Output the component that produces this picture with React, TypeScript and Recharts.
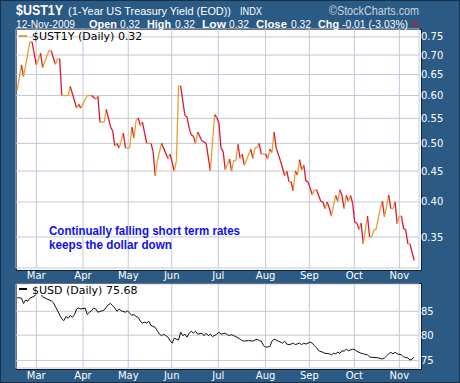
import React from "react";
import { LineChart, Line, XAxis, YAxis, CartesianGrid } from "recharts";

// x = trading-day position (0 = start of March 2009)
const ustDay = [
  -9, -7, -6, -3, -2, 0, 2, 3, 6, 7,
  9, 10, 11, 12, 15, 16, 19, 20, 21, 24,
  26, 28, 29, 30, 32, 33, 35, 36, 37, 38,
  39, 41, 42, 44, 45, 46, 47, 48, 49, 50,
  52, 54, 55, 56, 57, 59, 62, 63, 65, 66,
  67, 68, 70, 71, 72, 73, 74, 75, 76, 78,
  80, 82, 84, 85, 86, 87, 88, 89, 91, 92,
  93, 94, 95, 96, 97, 98, 101, 102, 103, 104,
  105, 106, 108, 109, 110, 111, 112, 113, 115, 117,
  118, 119, 120, 121, 122, 123, 124, 125, 126, 127,
  128, 130, 131, 132, 134, 135, 136, 137, 138, 139,
  141, 142, 143, 144, 145, 146, 147, 148, 149, 150,
  151, 152, 153, 154, 156, 157, 158, 159, 160, 162,
  163, 164, 166, 167, 168, 169, 170, 171, 172, 173,
  174, 175, 176, 178,
];
const ustYield = [
  0.612, 0.674, 0.645, 0.736, 0.736, 0.674, 0.705, 0.667, 0.712, 0.712,
  0.676, 0.69, 0.69, 0.6, 0.6, 0.621, 0.572, 0.58, 0.572, 0.6,
  0.6, 0.592, 0.598, 0.542, 0.542, 0.569, 0.532, 0.524, 0.495, 0.5,
  0.491, 0.52, 0.491, 0.491, 0.532, 0.51, 0.546, 0.551, 0.535, 0.542,
  0.5, 0.5, 0.485, 0.442, 0.468, 0.5, 0.472, 0.48, 0.45, 0.468,
  0.622, 0.622, 0.556, 0.553, 0.53, 0.516, 0.514, 0.5, 0.522, 0.505,
  0.5, 0.45, 0.558, 0.552, 0.541, 0.491, 0.485, 0.452, 0.471, 0.45,
  0.468, 0.468, 0.498, 0.472, 0.48, 0.46, 0.489, 0.472, 0.492, 0.492,
  0.5, 0.48, 0.48, 0.471, 0.489, 0.483, 0.522, 0.491, 0.468, 0.442,
  0.45, 0.432, 0.432, 0.417, 0.45, 0.443, 0.47, 0.452, 0.46, 0.433,
  0.432, 0.411, 0.419, 0.419, 0.401, 0.4, 0.39, 0.4, 0.391, 0.379,
  0.41, 0.401, 0.419, 0.41, 0.39, 0.41, 0.401, 0.41, 0.398, 0.37,
  0.369, 0.36, 0.369, 0.341, 0.379, 0.35, 0.35, 0.36, 0.36, 0.39,
  0.401, 0.378, 0.411, 0.39, 0.39, 0.4, 0.368, 0.379, 0.379, 0.361,
  0.36, 0.341, 0.341, 0.32,
];

const usdDay = [
  -9, -7, -6, -5, -4, -3, -1, 0, 2, 3,
  5, 7, 8, 12, 13, 14, 15, 16, 17, 18,
  19, 20, 21, 23, 24, 25, 26, 27, 28, 29,
  31, 32, 33, 34, 35, 36, 37, 38, 39, 40,
  42, 43, 44, 45, 46, 47, 48, 49, 50, 51,
  52, 53, 54, 56, 57, 58, 59, 60, 61, 62,
  63, 64, 65, 67, 68, 69, 70, 71, 72, 73,
  74, 75, 76, 78, 79, 80, 81, 82, 83, 85,
  86, 87, 89, 90, 91, 92, 93, 94, 96, 97,
  98, 100, 102, 103, 104, 105, 106, 107, 108, 110,
  111, 112, 113, 114, 116, 117, 118, 119, 120, 121,
  122, 124, 125, 126, 127, 129, 130, 131, 132, 133,
  135, 136, 138, 139, 140, 141, 142, 143, 144, 145,
  146, 147, 149, 150, 151, 152, 153, 154, 156, 157,
  158, 160, 161, 163, 164, 165, 166, 167, 168, 169,
  170, 172, 173, 174, 175, 176, 177, 178,
];
const usdValue = [
  88.0, 87.9, 86.7, 87.5, 87.2, 87.9, 88.3, 88.9, 89.0, 88.2,
  87.7, 87.3, 86.9, 83.4, 83.0, 83.9, 83.5, 84.1, 83.7, 84.3,
  85.5, 85.7, 85.5, 85.7, 84.3, 84.8, 85.1, 85.7, 85.5, 84.8,
  85.1, 85.3, 85.9, 86.45, 86.7, 86.2, 85.7, 85.0, 85.5, 85.1,
  84.8, 85.1, 84.6, 84.1, 84.3, 83.9, 83.7, 82.9, 82.5, 82.7,
  82.5, 82.9, 82.0, 81.6, 80.9, 80.2, 79.9, 80.2, 79.9, 79.6,
  78.9, 78.4, 79.4, 79.0, 80.6, 79.9, 80.2, 79.6, 80.4, 80.8,
  80.4, 80.8, 80.2, 80.4, 79.9, 80.4, 79.9, 80.2, 79.7, 80.2,
  80.6, 80.2, 80.4, 80.1, 79.9, 80.1, 79.9, 79.7, 79.2, 78.9,
  78.8, 78.9, 78.8, 79.0, 79.2, 78.9, 78.8, 77.9, 77.6, 77.7,
  78.8, 79.2, 79.0, 78.8, 78.4, 78.8, 78.2, 78.1, 78.2, 78.4,
  78.1, 78.4, 78.1, 78.4, 78.2, 78.6, 78.4, 77.9, 77.5, 76.9,
  76.6, 76.4, 76.3, 76.1, 76.4, 76.3, 76.6, 76.4, 76.9, 76.8,
  77.2, 76.9, 77.2, 77.1, 76.8, 76.6, 76.4, 76.3, 76.1, 75.7,
  75.6, 75.6, 75.5, 75.3, 75.5, 75.9, 76.3, 76.6, 76.3, 76.6,
  76.3, 76.1, 75.7, 75.6, 75.5, 75.1, 75.3, 75.68,
];

const monthTicks = [0, 22, 43.3, 63.8, 85.7, 108, 128.6, 149.8, 171];
const monthNames = ["Mar", "Apr", "May", "Jun", "Jul", "Aug", "Sep", "Oct", "Nov"];
const yieldTicks = [0.35, 0.4, 0.45, 0.5, 0.55, 0.6, 0.65, 0.7, 0.75];
const usdTicks = [75, 80, 85];

const BG = "#2b5a84";
const GRID = "#c6c6d6";
const UP = "#e4a12c";
const DOWN = "#dc1838";
const tickFont = { fill: "#fff", fontSize: 10, fontFamily: "DejaVu Sans" };
const xDomain = [-9.56, 180.26];

const ustData = ustDay.map((d, i) => ({ day: d, v: ustYield[i] }));
const usdData = usdDay.map((d, i) => ({ day: d, v: usdValue[i] }));

const monthLabel = (v: number) => monthNames[monthTicks.indexOf(v)] ?? "";

// each dot draws the segment to the next point, orange when up, red when down
const Segment = (props: any) => {
  const { index, cx, cy, points } = props;
  const next = points ? points[index + 1] : null;
  if (!next) return <g key={`seg-${index}`} />;
  const up = ustYield[index + 1] >= ustYield[index];
  return (
    <line
      key={`seg-${index}`}
      x1={cx}
      y1={cy}
      x2={next.x}
      y2={next.y}
      stroke={up ? UP : DOWN}
      strokeWidth={1.3}
    />
  );
};

const hdr = { fontFamily: "Liberation Sans, Arial, sans-serif", fill: "#fff" };

export default function App() {
  return (
    <div
      style={{
        position: "absolute",
        left: 0,
        top: 0,
        width: 460,
        height: 383,
        background: BG,
        boxSizing: "border-box",
        border: "1px solid #17314b",
        overflow: "hidden",
      }}
    >
      <div style={{ position: "absolute", left: 15, top: 28, width: 404, height: 240, background: "#fff", border: "1px solid #0d1f33" }} />
      <div style={{ position: "absolute", left: 15, top: 282, width: 404, height: 85, background: "#fff", border: "1px solid #0d1f33" }} />

      <div style={{ position: "absolute", left: -1, top: -1 }}>
        <LineChart width={460} height={283} data={ustData} margin={{ top: 29, right: 0, bottom: 0, left: 16 }}>
          <CartesianGrid stroke={GRID} />
          <XAxis
            dataKey="day"
            type="number"
            domain={xDomain}
            allowDataOverflow
            ticks={monthTicks}
            interval={0}
            tickFormatter={monthLabel}
            height={15}
            tickSize={0}
            tickMargin={4}
            axisLine={false}
            tickLine={false}
            tick={tickFont}
          />
          <YAxis
            orientation="right"
            scale="log"
            domain={[0.311, 0.773]}
            allowDataOverflow
            ticks={yieldTicks}
            interval={0}
            tickFormatter={(v: number) => v.toFixed(2)}
            width={41}
            tickSize={0}
            tickMargin={2}
            axisLine={false}
            tickLine={false}
            tick={tickFont}
          />
          <Line
            dataKey="v"
            stroke="transparent"
            dot={Segment}
            activeDot={false}
            isAnimationActive={false}
          />
        </LineChart>
      </div>

      <div style={{ position: "absolute", left: -1, top: 269 }}>
        <LineChart width={460} height={114} data={usdData} margin={{ top: 14, right: 0, bottom: 0, left: 16 }}>
          <CartesianGrid stroke={GRID} />
          <XAxis
            dataKey="day"
            type="number"
            domain={xDomain}
            allowDataOverflow
            ticks={monthTicks}
            interval={0}
            tickFormatter={monthLabel}
            height={16}
            tickSize={0}
            tickMargin={4}
            axisLine={false}
            tickLine={false}
            tick={tickFont}
          />
          <YAxis
            orientation="right"
            scale="log"
            domain={[73.6, 91.1]}
            allowDataOverflow
            ticks={usdTicks}
            interval={0}
            width={41}
            tickSize={0}
            tickMargin={2}
            axisLine={false}
            tickLine={false}
            tick={tickFont}
          />
          <Line
            dataKey="v"
            stroke="#111"
            strokeWidth={1}
            dot={false}
            activeDot={false}
            isAnimationActive={false}
          />
        </LineChart>
      </div>

      <svg width={460} height={383} style={{ position: "absolute", left: -1, top: -1, pointerEvents: "none" }}>
        <text x={16} y={15} {...hdr} fontSize={15} fontWeight="bold" textLength={47} lengthAdjust="spacingAndGlyphs">$UST1Y</text>
        <text x={68} y={14.5} {...hdr} fontSize={11} textLength={163} lengthAdjust="spacingAndGlyphs">(1-Year US Treasury Yield (EOD))</text>
        <text x={240} y={14.5} {...hdr} fontSize={10.5} textLength={22} lengthAdjust="spacingAndGlyphs">INDX</text>
        <text x={329} y={14.5} {...hdr} fill="#c9d2de" fontSize={12} textLength={90} lengthAdjust="spacingAndGlyphs">©StockCharts.com</text>

        <text x={16} y={27.5} {...hdr} fontSize={11} textLength={59} lengthAdjust="spacingAndGlyphs">12-Nov-2009</text>
        <text x={89} y={27.5} {...hdr} fontSize={11} fontWeight="bold" textLength={28} lengthAdjust="spacingAndGlyphs">Open</text>
        <text x={120} y={27.5} {...hdr} fontSize={11} textLength={20} lengthAdjust="spacingAndGlyphs">0.32</text>
        <text x={147} y={27.5} {...hdr} fontSize={11} fontWeight="bold" textLength={24} lengthAdjust="spacingAndGlyphs">High</text>
        <text x={175} y={27.5} {...hdr} fontSize={11} textLength={20} lengthAdjust="spacingAndGlyphs">0.32</text>
        <text x={202} y={27.5} {...hdr} fontSize={11} fontWeight="bold" textLength={24} lengthAdjust="spacingAndGlyphs">Low</text>
        <text x={229} y={27.5} {...hdr} fontSize={11} textLength={20} lengthAdjust="spacingAndGlyphs">0.32</text>
        <text x={256} y={27.5} {...hdr} fontSize={11} fontWeight="bold" textLength={31} lengthAdjust="spacingAndGlyphs">Close</text>
        <text x={291} y={27.5} {...hdr} fontSize={11} textLength={20} lengthAdjust="spacingAndGlyphs">0.32</text>
        <text x={318} y={27.5} {...hdr} fontSize={11} fontWeight="bold" textLength={21} lengthAdjust="spacingAndGlyphs">Chg</text>
        <text x={342} y={27.5} {...hdr} fontSize={11} textLength={66} lengthAdjust="spacingAndGlyphs">-0.01 (-3.03%)</text>
        <polygon points="412,22 419,22 415.5,25.5" fill="#d8102c" />

        <rect x={19} y={35} width={8} height={2} fill={UP} />
        <text x={32} y={40} fontFamily="DejaVu Sans" fontSize={11} fill="#000">$UST1Y (Daily) 0.32</text>

        <rect x={29} y={284} width={108} height={11} fill="#fff" />
        <rect x={19} y={288} width={8} height={2} fill="#000" />
        <text x={32} y={293.5} fontFamily="DejaVu Sans" fontSize={11} fill="#000">$USD (Daily) 75.68</text>

        <text x={49} y={235} fontFamily="Liberation Sans, Arial, sans-serif" fontWeight="bold" fontSize={12} fill="#1010ee" textLength={191} lengthAdjust="spacingAndGlyphs">
          Continually falling short term rates
        </text>
        <text x={49} y={248.5} fontFamily="Liberation Sans, Arial, sans-serif" fontWeight="bold" fontSize={12} fill="#1010ee" textLength={123} lengthAdjust="spacingAndGlyphs">
          keeps the dollar down
        </text>
      </svg>
    </div>
  );
}
